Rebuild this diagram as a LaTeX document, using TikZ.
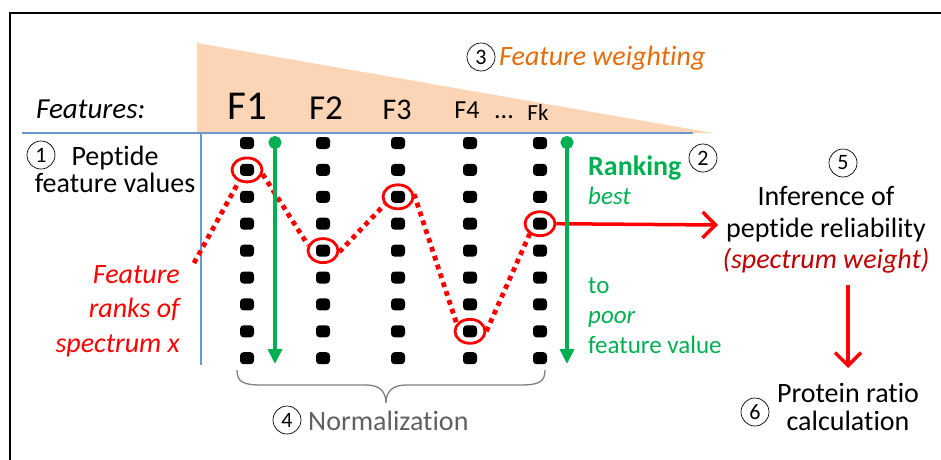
\documentclass[tikz,border=0pt]{standalone}
\usepackage{fontspec}
\setmainfont{Carlito}[Ligatures={NoCommon}]
\usetikzlibrary{arrows.meta,shapes.geometric}

\definecolor{peach}{HTML}{FBD5B5}
\definecolor{axisblue}{RGB}{108,152,208}
\definecolor{rankgreen}{HTML}{00B050}
\definecolor{markred}{HTML}{FF0000}
\definecolor{weightred}{HTML}{C00000}
\definecolor{weightorange}{HTML}{E46C0A}
\definecolor{bracegray}{HTML}{808080}
\definecolor{normgray}{HTML}{606060}

\tikzset{
  lbl/.style={inner sep=0pt, font=\fontsize{28}{34}\selectfont},
  sidelbl/.style={inner sep=0pt, text=rankgreen, font=\fontsize{25}{30}\selectfont},
  numcirc/.style={circle, draw=black, line width=0.7pt, minimum size=28pt, inner sep=0pt,
                  font=\fontsize{22}{22}\selectfont},
  dotmark/.style={rectangle, fill=black, rounded corners=3.5pt, minimum width=14pt,
                  minimum height=12pt, inner sep=0pt},
  ring/.style={ellipse, draw=markred, line width=2.8pt, minimum width=30pt,
               minimum height=24pt, inner sep=0pt},
  rankpath/.style={draw=markred, line width=4.8pt, dash pattern=on 4.8pt off 4.5pt},
  flowarrow/.style={draw=markred, line width=3.5pt,
                    -{Straight Barb[length=13pt,width=26pt,line width=3.5pt]}},
  rankarrow/.style={draw=rankgreen, line width=3.5pt,
                    {Circle[length=13pt]}-{Triangle[length=15pt,width=14pt]}},
}

\begin{document}
\begin{tikzpicture}[x=1pt,y=-1pt]
\useasboundingbox (0,0) rectangle (941,459);
\clip (0,0) rectangle (941,459);

% outer frame
\draw[line width=2pt] (10,13) rectangle (990,520);

% feature weighting wedge
\fill[peach] (197,43) -- (713,133) -- (197,133) -- cycle;

% table axes
\draw[axisblue, line width=1.5pt] (22,133) -- (693,133);
\draw[axisblue, line width=1.5pt] (201,133) -- (201,365);

% normalization brace
\draw[bracegray, line width=1.3pt]
  (237,370) .. controls (237,382) and (243,385) .. (262,385)
  -- (366,385) .. controls (380,385) and (386,392) .. (386,403)
  .. controls (386,392) and (392,385) .. (406,385)
  -- (520,385) .. controls (539,385) and (545,382) .. (545,370);

% feature value dots: 5 columns x 9 rows
\foreach \x [count=\c] in {247,323,398,470,540} {
  \foreach \i in {0,...,8} {
    \node[dotmark] (d\c-\i) at (\x,{143+26.9*\i}) {};
  }
}

% ranks of spectrum x in each feature column
\node[ring] (r1) at (d1-1) {};
\node[ring] (r2) at (d2-4) {};
\node[ring] (r3) at (d3-2) {};
\node[ring] (r4) at (d4-7) {};
\node[ring] (r5) at (d5-3) {};

\coordinate (s0) at (194,263);
\draw[rankpath] (s0) -- (r1.235);
\draw[rankpath] (r1.-15) -- (r2.160);
\draw[rankpath] (r2.-5) -- (r3.210);
\draw[rankpath] (r3.10) -- (r4.150);
\draw[rankpath] (r4.0) -- (r5.225);

% flow to reliability inference and protein ratio
\coordinate (infL) at (718,225);
\draw[flowarrow] (r5.east) -- (infL);
\coordinate (wtop) at (848,285);
\coordinate (wbot) at (848,368);
\draw[flowarrow] (wtop) -- (wbot);

% ranking direction arrows
\coordinate (g1t) at (275,136);
\coordinate (g1b) at (275,364);
\coordinate (g2t) at (567,136);
\coordinate (g2b) at (567,364);
\draw[rankarrow] (g1t) -- (g1b);
\draw[rankarrow] (g2t) -- (g2b);

% header labels
\node[lbl, anchor=base west, font=\fontsize{29}{34}\itshape] (feat) at (36,118) {Features:};
\node[inner sep=0pt, anchor=base, font=\fontsize{41}{41}\selectfont] (f1) at (247,119) {F1};
\node[inner sep=0pt, anchor=base, font=\fontsize{35}{35}\selectfont] (f2) at (326,119) {F2};
\node[inner sep=0pt, anchor=base, font=\fontsize{30}{30}\selectfont] (f3) at (397,119) {F3};
\node[inner sep=0pt, anchor=base, font=\fontsize{26}{26}\selectfont] (f4) at (467,118) {F4};
\node[inner sep=0pt, anchor=base, font=\fontsize{26}{26}\selectfont] (fdots) at (504,118) {...};
\node[inner sep=0pt, anchor=base, font=\fontsize{23}{23}\selectfont] (fk) at (538,120) {Fk};

\node[numcirc] (n3) at (481,57) {3};
\node[lbl, anchor=base west, text=weightorange, font=\fontsize{28}{34}\itshape] (fw) at (499,65) {Feature weighting};

% left labels
\node[numcirc] (n1) at (41,155) {1};
\node[lbl, anchor=base] (pep1) at (115,165) {Peptide};
\node[lbl, anchor=base] (pep2) at (115,192) {feature values};
\node[lbl, anchor=base east, text=markred, font=\fontsize{28}{34}\itshape] (fr1) at (180,283) {Feature};
\node[lbl, anchor=base east, text=markred, font=\fontsize{28}{34}\itshape] (fr2) at (180,317) {ranks of};
\node[lbl, anchor=base east, text=markred, font=\fontsize{28}{34}\itshape] (fr3) at (180,352) {spectrum x};

% ranking labels
\node[numcirc] (n2) at (703,158) {2};
\node[sidelbl, anchor=base west, font=\fontsize{28}{34}\bfseries] (rk) at (588,175) {Ranking};
\node[sidelbl, anchor=base west, font=\fontsize{25}{30}\itshape] (rbest) at (588,204) {best};
\node[sidelbl, anchor=base west] (rto) at (588,293) {to};
\node[sidelbl, anchor=base west, font=\fontsize{25}{30}\itshape] (rpoor) at (588,323) {poor};
\node[sidelbl, anchor=base west] (rfv) at (588,353) {feature value};

% inference labels
\node[numcirc] (n5) at (843,163) {5};
\node[lbl, anchor=base] (inf1) at (826,205) {Inference of};
\node[lbl, anchor=base] (inf2) at (826,237) {peptide reliability};
\node[lbl, anchor=base, text=weightred, font=\fontsize{28}{34}\itshape] (inf3) at (826,268) {(spectrum weight)};

% protein ratio labels
\node[numcirc] (n6) at (755,412) {6};
\node[lbl, anchor=base] (pr1) at (848,402) {Protein ratio};
\node[lbl, anchor=base] (pr2) at (848,430) {calculation};

% normalization label
\node[numcirc] (n4) at (287,420) {4};
\node[lbl, anchor=base west, text=normgray] (norm) at (308,430) {Normalization};
\end{tikzpicture}
\end{document}
